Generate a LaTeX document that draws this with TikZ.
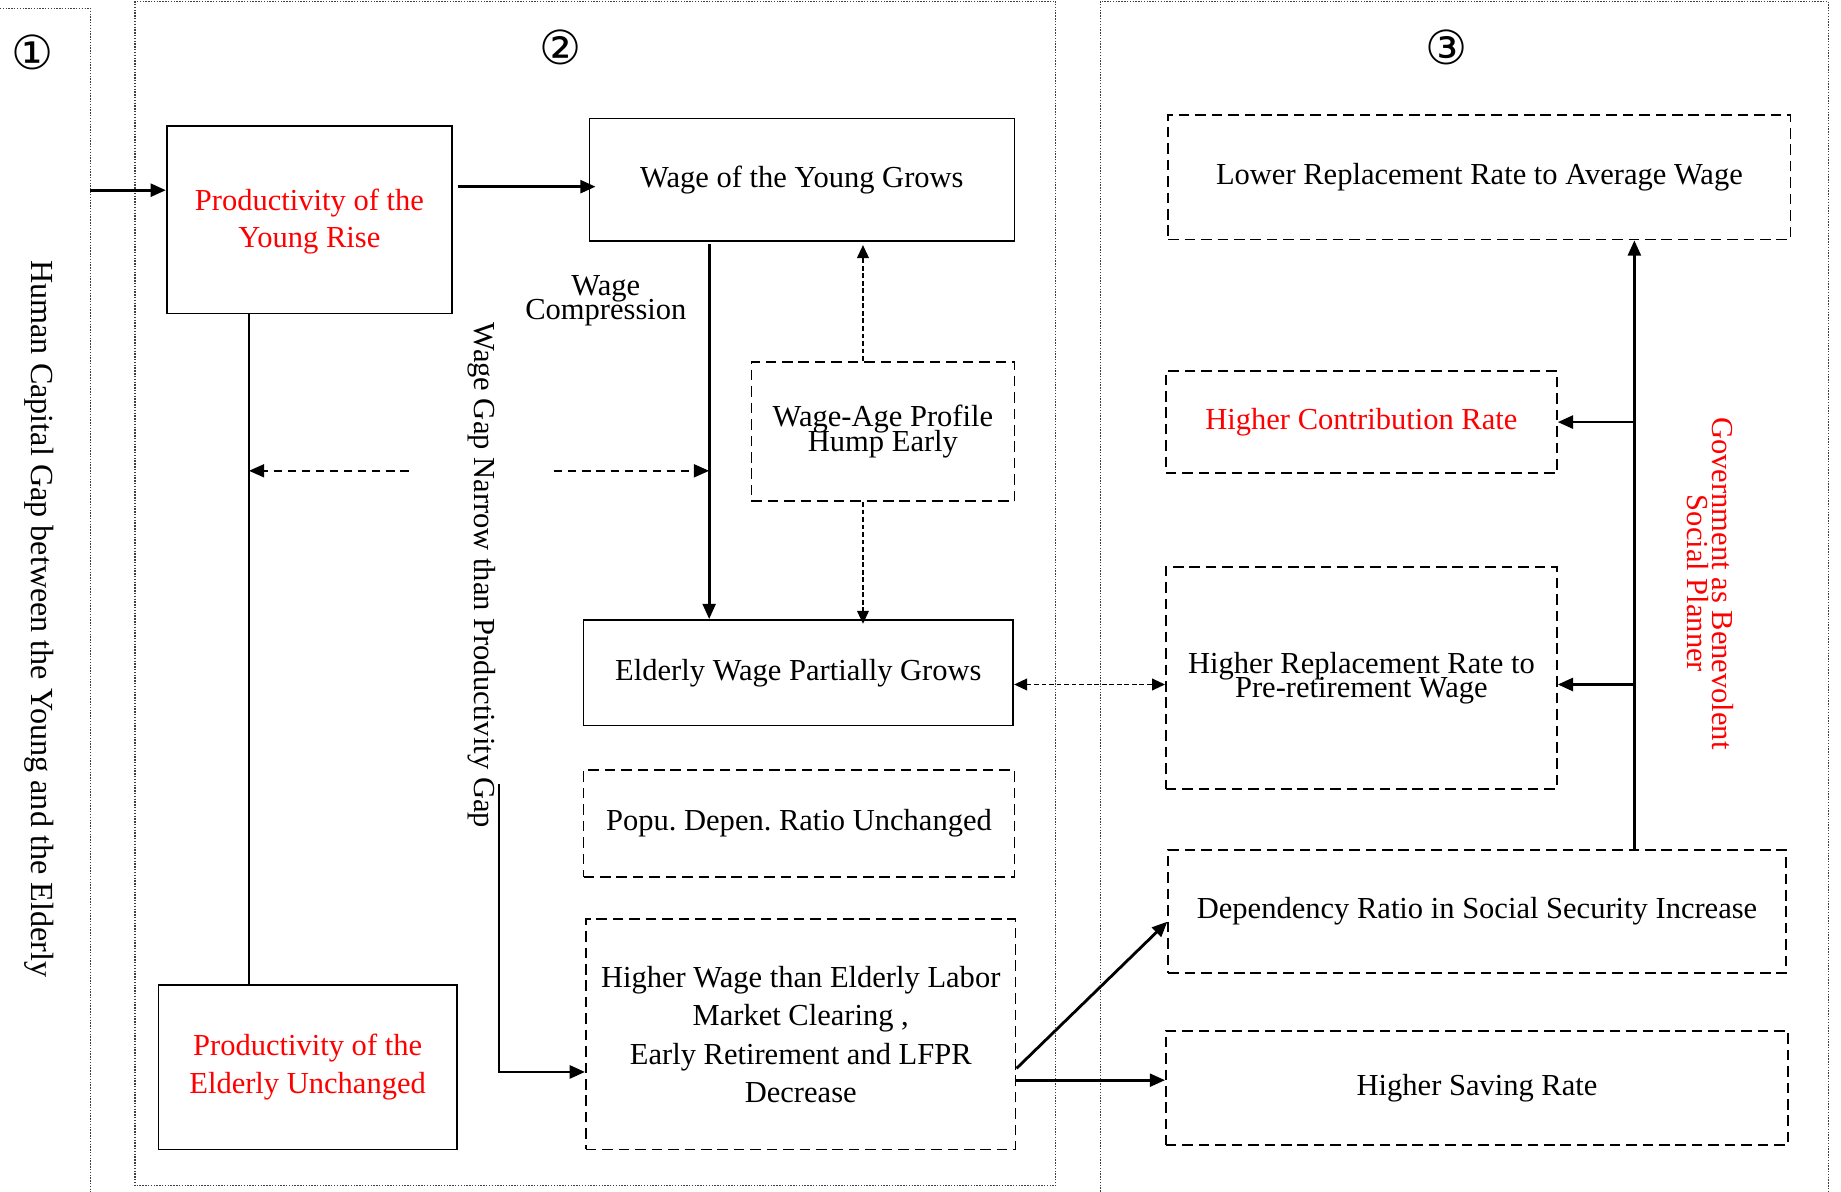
\documentclass[tikz,border=0pt]{standalone}
\usepackage{fontspec}
\setmainfont{Liberation Serif}
\newfontfamily\circfont{DejaVu Sans}
\usetikzlibrary{arrows.meta}
\definecolor{pred}{RGB}{255,0,0}
\newcommand{\tightfont}[1]{\fontsize{13}{#1}\selectfont\lineskiplimit=-30pt\lineskip=0pt}
\begin{document}
\frenchspacing
\begin{tikzpicture}[x=0.5pt,y=-0.5pt,
  box/.style={draw, line width=0.75pt, inner sep=0pt, align=center, font=\fontsize{13}{16}\selectfont},
  dbox/.style={box, dash pattern=on 4.5pt off 2.5pt},
  panel/.style={draw=black!75, line width=0.45pt, dash pattern=on 0.6pt off 0.6pt},
  arr/.style={line width=1.2pt, -{Triangle[length=6.5pt,width=5.5pt]}},
  darr/.style={line width=0.9pt, dash pattern=on 3.5pt off 2.5pt, -{Triangle[length=6.5pt,width=5.5pt]}},
  farr/.style={line width=0.6pt, dash pattern=on 2pt off 1.2pt, -{Triangle[length=5.5pt,width=5pt]}},
  lbl/.style={inner sep=0pt, align=center},
  circnum/.style={inner sep=0pt, font=\circfont\fontsize{20}{20}\selectfont}
]
\useasboundingbox (0,0) rectangle (1568,1015);
\fill[white] (0,0) rectangle (1568,1015);

% panels
\draw[panel] (0,7) -- (77,7) -- (77,1015);
\draw[panel] (115,1) rectangle (899,1010);
\draw[panel] (937,1015) -- (937,1) -- (1557,1) -- (1557,1015);

% circled numbers
\node[circnum] (n1) at (28,45) {①};
\node[circnum] (n2) at (477,40) {②};
\node[circnum] (n3) at (1232,40) {③};

% boxes
\node[box, text=pred, minimum width=121.5pt, minimum height=80pt, font=\tightfont{15.5}] (PY) at (263.5,187) {\strut Productivity of the\\Young Rise};
\node[box, minimum width=181pt, minimum height=52pt] (WY) at (683,153) {Wage of the Young Grows};
\node[dbox, minimum width=112pt, minimum height=59.5pt, font=\tightfont{10.5}] (WAP) at (752,367.5) {Wage-Age Profile\\Hump Early};
\node[box, minimum width=183pt, minimum height=45pt] (EW) at (680,573) {Elderly Wage Partially Grows};
\node[dbox, minimum width=183.5pt, minimum height=45.5pt] (PDR) at (680.5,701.5) {Popu. Depen. Ratio Unchanged};
\node[dbox, minimum width=183pt, minimum height=98pt, font=\tightfont{16.35}] (HW) at (682,881) {Higher Wage than Elderly Labor\\Market Clearing ,\\Early Retirement and LFPR\\Decrease};
\node[box, text=pred, minimum width=127pt, minimum height=70pt, font=\tightfont{16}] (PE) at (262,909) {Productivity of the\\Elderly Unchanged};
\node[dbox, minimum width=265pt, minimum height=53pt] (LRR) at (1260,151) {Lower Replacement Rate to Average Wage};
\node[dbox, text=pred, minimum width=166.5pt, minimum height=43.5pt] (HCR) at (1159.5,359.5) {Higher Contribution Rate};
\node[dbox, minimum width=166.5pt, minimum height=94.5pt, font=\tightfont{10.5}] (HRR) at (1159.5,577.5) {Higher Replacement Rate to\\Pre-retirement Wage};
\node[dbox, minimum width=263pt, minimum height=52.5pt] (DR) at (1258,776.5) {Dependency Ratio in Social Security Increase};
\node[dbox, minimum width=265pt, minimum height=48.5pt] (HSR) at (1258,926.5) {Higher Saving Rate};

% labels
\node[lbl, rotate=-90, font=\fontsize{13.7}{13.7}\selectfont] (HC) at (33,527) {Human Capital Gap between the Young and the Elderly};
\node[lbl, rotate=-90, font=\fontsize{13}{13}\selectfont] (WG) at (410,490) {Wage Gap Narrow than Productivity Gap};
\node[lbl, font=\tightfont{10}] (WC) at (516,256) {Wage\\Compression};
\node[lbl, rotate=-90, text=pred, font=\tightfont{10.5}] (GOV) at (1457,497) {Government as Benevolent\\Social Planner};

% helper coordinates
\coordinate (p1e) at (77,162);
\coordinate (yb) at (0,159);
\coordinate (lx) at (212,0);
\coordinate (vx) at (604,0);
\coordinate (gx) at (735,0);
\coordinate (d1) at (348,401);
\coordinate (e1) at (472,401);
\coordinate (iy) at (0,583);
\coordinate (j1) at (425,668);
\coordinate (jy) at (0,913);
\coordinate (ky1) at (0,910);
\coordinate (ky2) at (0,785);
\coordinate (ly) at (0,920);
\coordinate (gx3) at (1392,0);

% connectors
\draw[arr] (p1e) -- (PY.west |- p1e);
\draw[arr] ([xshift=2pt]PY.east |- yb) -- ([xshift=3pt]WY.west |- yb);
\draw[line width=0.6pt] (PY.south -| lx) -- (PE.north -| lx);
\draw[darr] (d1) -- (d1 -| lx);
\draw[darr] (e1) -- (e1 -| vx);
\draw[arr] ([yshift=-1pt]WY.south -| vx) -- (EW.north -| vx);
\draw[farr] (WAP.north -| gx) -- ([yshift=-1.5pt]WY.south -| gx);
\draw[farr] (WAP.south -| gx) -- ([yshift=-2pt]EW.north -| gx);
\draw[farr, {Triangle[length=5.5pt,width=5pt]}-{Triangle[length=5.5pt,width=5pt]}] (EW.east |- iy) -- (HRR.west |- iy);
\draw[arr] (j1) |- (HW.west |- jy);
\draw[arr] (HW.east |- ky1) -- (DR.west |- ky2);
\draw[arr] (HW.east |- ly) -- (HSR.west |- ly);
\draw[arr] (DR.north -| gx3) -- (LRR.south -| gx3);
\draw[arr] (gx3 |- HCR.east) -- (HCR.east);
\draw[arr] (gx3 |- iy) -- (HRR.east |- iy);
\end{tikzpicture}
\end{document}
